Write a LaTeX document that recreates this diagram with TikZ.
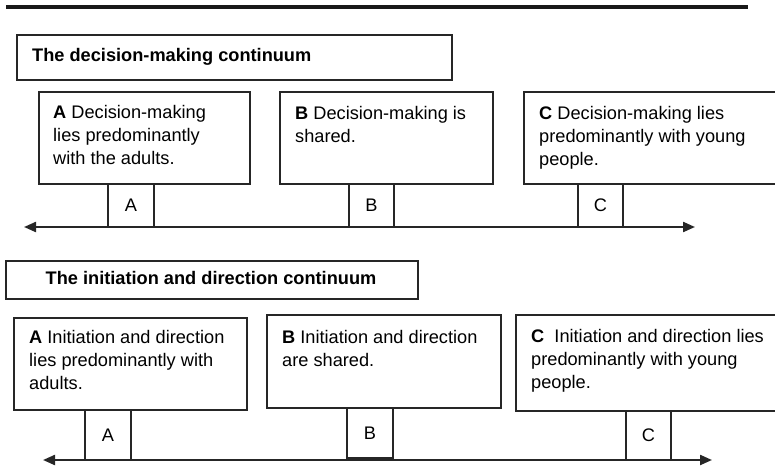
\documentclass[tikz,border=0pt]{standalone}
\usepackage{fontspec}
\setmainfont{Liberation Sans}
\usetikzlibrary{arrows.meta}

\begin{document}
\begin{tikzpicture}[x=1pt, y=-1pt,
        box/.style = {draw=black!85, line width=2pt, rectangle, inner sep=0pt, anchor=north west},
        tab/.style = {box, font=\fontsize{18.2}{23}\selectfont},
        txt/.style = {anchor=north west, inner sep=0pt, align=left, font=\fontsize{18.2}{23}\selectfont},
        ttl/.style = {inner sep=0pt, font=\fontsize{18.2}{23}\selectfont\bfseries},
        axis/.style = {line width=2.2pt, black!85, arrows={Triangle[length=12pt,width=10pt]-Triangle[length=12pt,width=10pt]}}]
        \useasboundingbox (0,0) rectangle (775,468);
        \clip (0,0) rectangle (775,468);

        \draw[line width=3.5pt, black!90] (6,7) -- (748,7);

        % decision-making
        \node[box, minimum width=435pt, minimum height=45pt] (dm) at (16,34) {};
        \node[ttl, anchor=base west] (dmt) at (32,62) {The decision-making continuum};

        \node[box, minimum width=211pt, minimum height=92pt] (dmA) at (38,91) {};
        \node[box, minimum width=213pt, minimum height=92pt] (dmB) at (279,91) {};
        \node[box, minimum width=280pt, minimum height=92pt] (dmC) at (523,91) {};
        \node[txt] (dmAt) at (53,105) {\textbf{A} Decision-making\\lies predominantly\\with the adults.};
        \node[txt] (dmBt) at (295,106) {\textbf{B} Decision-making is\\shared.};
        \node[txt] (dmCt) at (539,106) {\textbf{C} Decision-making lies\\predominantly with young\\people.};

        \node[tab, minimum width=46pt, minimum height=43pt] (dma) at (107,183) {A};
        \node[tab, minimum width=45pt, minimum height=43pt] (dmb) at (348,183) {B};
        \node[tab, minimum width=45pt, minimum height=43pt] (dmc) at (577,183) {C};

        \coordinate (dml) at (24,227);
        \coordinate (dmr) at (695,227);
        \draw[axis] (dml) -- (dmr);

        % initiation and direction
        \node[box, minimum width=412pt, minimum height=38pt] (id) at (5,260) {};
        \node[ttl, anchor=base] (idt) at (211,284) {The initiation and direction continuum};

        \node[box, minimum width=233pt, minimum height=92pt] (idA) at (13,317) {};
        \node[box, minimum width=234pt, minimum height=93pt] (idB) at (266,314) {};
        \node[box, minimum width=290pt, minimum height=96pt] (idC) at (515,314) {};
        \node[txt] (idAt) at (29,330) {\textbf{A} Initiation and direction\\lies predominantly with\\adults.};
        \node[txt] (idBt) at (282,330) {\textbf{B} Initiation and direction\\are shared.};
        \node[txt] (idCt) at (531,329) {\textbf{C}\ \ Initiation and direction lies\\predominantly with young\\people.};

        \node[tab, minimum width=46pt, minimum height=50pt] (ida) at (84,409) {A};
        \node[tab, minimum width=46pt, minimum height=50pt] (idb) at (346,407) {B};
        \node[tab, minimum width=45pt, minimum height=49pt] (idc) at (625,410) {C};

        \coordinate (idl) at (43,460);
        \coordinate (idr) at (712,460);
        \draw[axis] (idl) -- (idr);
\end{tikzpicture}
\end{document}
